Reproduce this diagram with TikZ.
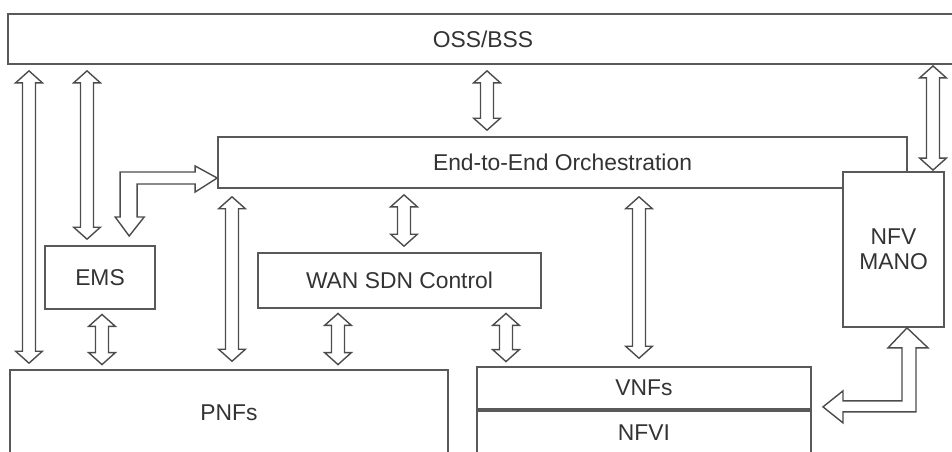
\documentclass[tikz,border=0pt]{standalone}
\usepackage{fontspec}
\setmainfont{Liberation Sans}
\usepackage{tikz}
\usetikzlibrary{calc,positioning}

\tikzset{
    box/.style={draw=black!65, line width=1pt, fill=white, inner sep=0pt,
        font=\fontsize{13}{14.5}\selectfont, text=black!80, align=center},
    hollow/.style={draw=black!70, line width=0.8pt, line join=miter},
    dbl/.style={hollow, to path={let \p1=(\tikztostart), \p2=(\tikztotarget) in
        (\x1,\y1-#1) -- (\x1+7.6pt,\y1-#1-6.8pt) -- (\x1+3.7pt,\y1-#1-6.8pt)
        -- (\x1+3.7pt,\y2+#1+6.8pt) -- (\x1+7.6pt,\y2+#1+6.8pt) -- (\x1,\y2+#1)
        -- (\x1-7.6pt,\y2+#1+6.8pt) -- (\x1-3.7pt,\y2+#1+6.8pt)
        -- (\x1-3.7pt,\y1-#1-6.8pt) -- (\x1-7.6pt,\y1-#1-6.8pt) -- cycle}},
    dbl/.default=3.4pt
}

\begin{document}
\begin{tikzpicture}[x=0.02cm, y=-0.02cm]
    \useasboundingbox (0,0) rectangle (952,451);

    % Boxes
    \node[box, minimum width=19cm, minimum height=1cm] (oss) at (483,39) {OSS/BSS};
    \node[box, minimum width=13.78cm, minimum height=1.02cm] (e2e) at (562.5,162.5) {End-to-End Orchestration};
    \node[box, minimum width=2.02cm, minimum height=3.1cm] (mano) at (893.5,249.5) {NFV\\MANO};
    \node[box, minimum width=2.2cm, minimum height=1.26cm] (ems) at (100,277.5) {EMS};
    \node[box, minimum width=5.66cm, minimum height=1.1cm] (wan) at (399.5,280.5) {WAN SDN Control};
    \node[box, minimum width=8.76cm, minimum height=1.72cm] (pnf) at (229,413) {PNFs};
    \node[box, minimum width=6.68cm, minimum height=0.84cm] (vnf) at (644,388) {VNFs};
    \node[box, minimum width=6.68cm, minimum height=0.88cm] (nfvi) at (644,433) {NFVI};

    % Arrows from OSS/BSS
    \draw[dbl] (29,0 |- oss.south) to (29,0 |- pnf.north);
    \draw[dbl] (87,0 |- oss.south) to (87,0 |- ems.north);
    \draw[dbl] (487,0 |- oss.south) to (487,0 |- e2e.north);
    \draw[dbl=0.6pt] (933,0 |- oss.south) to (933,0 |- mano.north);

    % Arrows from the orchestration
    \draw[dbl] (404,0 |- e2e.south) to (404,0 |- wan.north);
    \draw[dbl=4.5pt] (232,0 |- e2e.south) to (232,0 |- pnf.north);
    \draw[dbl=4.5pt] (639,0 |- e2e.south) to (639,0 |- vnf.north);

    % Arrows down to the network functions
    \draw[dbl=2.6pt] (102,0 |- ems.south) to (102,0 |- pnf.north);
    \draw[dbl=2.6pt] (338,0 |- wan.south) to (338,0 |- pnf.north);
    \draw[dbl=2.6pt] (506,0 |- wan.south) to (506,0 |- vnf.north);

    % Bent arrows
    \draw[hollow] (e2e.west |- 0,178) -- ++(-22,14) -- ++(0,-8) -- ++(-58,0)
        -- ++(0,33) -- ++(7,0) -- ++(-15,19) -- ++(-14,-19) -- ++(5,0)
        -- ++(0,-45) -- ++(75,0) -- ++(0,-6) -- cycle;
    \draw[hollow] (907,0 |- mano.south) -- ++(21,20) -- ++(-12,0) -- ++(0,64)
        -- ++(-73,0) -- ++(0,11) -- ++(-20,-16) -- ++(20,-16) -- ++(0,10)
        -- ++(59,0) -- ++(0,-53) -- ++(-14,0) -- cycle;
\end{tikzpicture}
\end{document}
